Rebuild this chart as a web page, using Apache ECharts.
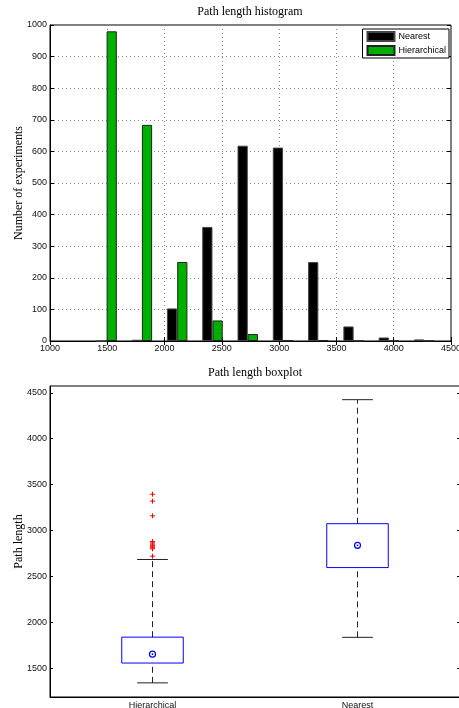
<!DOCTYPE html>
<html>
<head>
<meta charset="utf-8">
<script src="https://cdn.jsdelivr.net/npm/echarts@6/dist/echarts.min.js"></script>
<style>
  html, body { margin: 0; padding: 0; background: #fff; }
  #chart { width: 459px; height: 708px; }
</style>
</head>
<body>
<div id="chart"></div>
<script>
// histogram bins (bin centres) and counts
const binCenters = [1494, 1802, 2110, 2418, 2726, 3034, 3342, 3650, 3958, 4266];
const nearestCounts = [0, 4, 103, 361, 618, 612, 250, 46, 11, 5];
const hierCounts = [980, 684, 250, 65, 22, 1, 2, 0, 0, 0];

// boxplot stats: [lower whisker, q1, median, q3, upper whisker]
const boxCategories = ['Hierarchical', 'Nearest'];
const hierStats = [1340, 1556, 1652, 1838, 2684];
const nearestStats = [1836, 2596, 2838, 3074, 4425];
const hierOutliers = [3395, 3320, 3160, 2880, 2866, 2852, 2840, 2830, 2820, 2810, 2800, 2720];

const boxYTicks = [1500, 2000, 2500, 3000, 3500, 4000, 4500];

const SANS = '"Liberation Sans", Arial, sans-serif';
const SERIF = '"Liberation Serif", "Times New Roman", serif';

const chart = echarts.init(document.getElementById('chart'));

const plain = v => String(v);
const gridLine = { show: true, lineStyle: { color: '#888', type: [1, 3], width: 1 } };
const tickStyle = { show: true, inside: true, length: 4, lineStyle: { color: '#000' } };
const labelStyle = { color: '#111', fontSize: 9, fontFamily: SANS, margin: 3, formatter: plain };

const option = {
  animation: false,
  backgroundColor: '#fff',
  title: [
    {
      text: 'Path length histogram',
      left: 250, top: 6, textAlign: 'center', padding: 0,
      textStyle: { fontFamily: SERIF, fontSize: 12, fontWeight: 'normal', color: '#000' }
    },
    {
      text: 'Path length boxplot',
      left: 255, top: 367, textAlign: 'center', padding: 0,
      textStyle: { fontFamily: SERIF, fontSize: 12, fontWeight: 'normal', color: '#000' }
    }
  ],
  legend: {
    data: ['Nearest', 'Hierarchical'],
    orient: 'vertical',
    right: 10, top: 29,
    itemWidth: 27, itemHeight: 9, itemGap: 3,
    padding: [2, 3, 2, 4],
    backgroundColor: '#fff',
    borderColor: '#000', borderWidth: 1, borderRadius: 0,
    icon: 'rect',
    textStyle: { fontFamily: SANS, fontSize: 9, color: '#000', padding: [0, 0, 0, -1] }
  },
  grid: [
    { left: 50, top: 25, width: 401, height: 316, outerBoundsMode: 'none', containLabel: false,
      show: true, borderColor: '#000', borderWidth: 1 },
    { left: 50, top: 386, width: 410, height: 311, outerBoundsMode: 'none', containLabel: false,
      show: true, borderColor: '#000', borderWidth: 1 }
  ],
  xAxis: [
    {
      type: 'value', gridIndex: 0, min: 1000, max: 4500, interval: 500,
      axisLine: { show: true, lineStyle: { color: '#000' } },
      axisTick: tickStyle, axisLabel: labelStyle, splitLine: gridLine
    },
    {
      type: 'value', gridIndex: 0, position: 'top', min: 1000, max: 4500, interval: 500,
      axisLine: { show: false }, axisTick: tickStyle, axisLabel: { show: false }, splitLine: { show: false }
    },
    {
      type: 'category', gridIndex: 1, data: boxCategories,
      axisLine: { show: true, lineStyle: { color: '#000' } },
      axisTick: { show: false },
      axisLabel: { color: '#111', fontSize: 9, fontFamily: SANS, margin: 4 }
    }
  ],
  yAxis: [
    {
      type: 'value', gridIndex: 0, min: 0, max: 1000, interval: 100,
      name: 'Number of experiments', nameLocation: 'middle', nameGap: 25, nameMoveOverlap: false,
      nameTextStyle: { fontFamily: SERIF, fontSize: 12, color: '#000' },
      axisLine: { show: true, lineStyle: { color: '#000' } },
      axisTick: tickStyle, axisLabel: labelStyle, splitLine: gridLine
    },
    {
      type: 'value', gridIndex: 0, position: 'right', min: 0, max: 1000, interval: 100,
      axisLine: { show: false }, axisTick: tickStyle, axisLabel: { show: false }, splitLine: { show: false }
    },
    {
      type: 'value', gridIndex: 1, min: 1186, max: 4574,
      name: 'Path length', nameLocation: 'middle', nameGap: 25, nameMoveOverlap: false,
      nameTextStyle: { fontFamily: SERIF, fontSize: 12, color: '#000' },
      axisLine: { show: true, lineStyle: { color: '#000' } },
      axisTick: { show: true, inside: true, length: 3, lineStyle: { color: '#000' }, customValues: boxYTicks },
      axisLabel: Object.assign({}, labelStyle, { customValues: boxYTicks }),
      splitLine: { show: false }
    },
    {
      type: 'value', gridIndex: 1, position: 'right', min: 1186, max: 4574,
      axisLine: { show: false },
      axisTick: { show: true, inside: true, length: 3, lineStyle: { color: '#000' }, customValues: boxYTicks },
      axisLabel: { show: false }, splitLine: { show: false }
    }
  ],
  series: [
    {
      name: 'Nearest', type: 'bar', xAxisIndex: 0, yAxisIndex: 0,
      data: binCenters.map((c, i) => [c, nearestCounts[i]]),
      barWidth: '29%', barGap: '0%',
      itemStyle: { color: '#000', borderColor: '#444', borderWidth: 1 }
    },
    {
      name: 'Hierarchical', type: 'bar', xAxisIndex: 0, yAxisIndex: 0,
      data: binCenters.map((c, i) => [c, hierCounts[i]]),
      barWidth: '29%', barGap: '0%',
      itemStyle: { color: '#00b000', borderColor: '#222', borderWidth: 1 }
    },
    {
      name: 'box', type: 'custom', xAxisIndex: 2, yAxisIndex: 2,
      data: [[0].concat(hierStats), [1].concat(nearestStats)],
      renderItem: function (params, api) {
        const idx = api.value(0);
        const band = api.size([1, 0])[0];
        const boxW = band * 0.3;
        const capW = band * 0.15;
        const pMin = api.coord([idx, api.value(1)]);
        const pQ1 = api.coord([idx, api.value(2)]);
        const pMed = api.coord([idx, api.value(3)]);
        const pQ3 = api.coord([idx, api.value(4)]);
        const pMax = api.coord([idx, api.value(5)]);
        const cx = pMin[0];
        const dash = { stroke: '#222', lineWidth: 1, lineDash: [6, 4] };
        const solid = { stroke: '#222', lineWidth: 1 };
        return {
          type: 'group',
          children: [
            { type: 'line', shape: { x1: cx, y1: pMin[1], x2: cx, y2: pQ1[1] }, style: dash },
            { type: 'line', shape: { x1: cx, y1: pQ3[1], x2: cx, y2: pMax[1] }, style: dash },
            { type: 'line', shape: { x1: cx - capW / 2, y1: pMin[1], x2: cx + capW / 2, y2: pMin[1] }, style: solid },
            { type: 'line', shape: { x1: cx - capW / 2, y1: pMax[1], x2: cx + capW / 2, y2: pMax[1] }, style: solid },
            {
              type: 'rect',
              shape: { x: cx - boxW / 2, y: pQ3[1], width: boxW, height: pQ1[1] - pQ3[1] },
              style: { fill: '#fff', stroke: '#0000ff', lineWidth: 1 }
            },
            { type: 'circle', shape: { cx: cx, cy: pMed[1], r: 3 }, style: { fill: 'none', stroke: '#0000ff', lineWidth: 1.2 } },
            { type: 'circle', shape: { cx: cx, cy: pMed[1], r: 0.9 }, style: { fill: '#0000ff' } }
          ]
        };
      }
    },
    {
      name: 'outliers', type: 'custom', xAxisIndex: 2, yAxisIndex: 2,
      data: hierOutliers.map(v => [0, v]),
      renderItem: function (params, api) {
        const p = api.coord([api.value(0), api.value(1)]);
        const s = 2.5;
        const st = { stroke: '#ff0000', lineWidth: 1 };
        return {
          type: 'group',
          children: [
            { type: 'line', shape: { x1: p[0] - s, y1: p[1], x2: p[0] + s, y2: p[1] }, style: st },
            { type: 'line', shape: { x1: p[0], y1: p[1] - s, x2: p[0], y2: p[1] + s }, style: st }
          ]
        };
      }
    }
  ]
};

chart.setOption(option);
</script>
</body>
</html>
